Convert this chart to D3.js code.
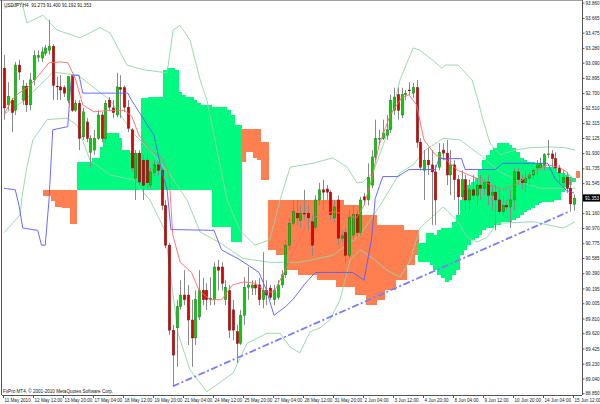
<!DOCTYPE html>
<html><head><meta charset="utf-8">
<script src="https://cdn.jsdelivr.net/npm/d3@7"></script>
<style>body{margin:0;background:#fff}svg{display:block}text{font-family:"Liberation Sans",Arial,sans-serif}</style>
</head><body><svg id="c" width="600" height="404"></svg>
<script>
// ---------- DATA ----------
const openP=[93.02,92.55,92.61,92.48,93.06,92.61,92.79,92.55,92.87,93.16,
93.15,93.21,93.25,93.30,92.79,92.78,92.77,92.61,92.91,92.48,
92.57,92.14,92.33,91.94,91.97,92.12,92.42,92.12,92.61,92.51,
92.42,92.77,92.77,92.52,92.23,91.61,91.93,91.84,91.84,91.52,
91.68,91.78,91.71,91.26,90.75,89.66,89.69,89.96,90.11,90.11,
89.79,89.56,89.83,90.17,90.17,90.05,90.05,90.47,90.47,90.05,
90.17,89.92,89.64,89.49,89.85,90.21,90.20,90.24,90.24,90.05,
90.17,90.20,90.05,90.08,90.24,90.37,90.75,91.03,91.16,91.07,
91.16,91.16,91.05,90.98,91.33,91.46,91.47,91.43,91.10,91.33,
90.84,90.91,90.62,90.88,91.14,90.91,91.37,91.33,91.52,91.88,
92.11,92.12,92.16,92.23,92.48,92.68,92.42,92.68,92.74,92.70,
92.77,92.07,91.71,91.84,91.78,91.69,91.75,91.97,91.93,91.65,
91.78,91.59,91.37,91.59,91.33,91.46,91.39,91.52,91.48,91.56,
91.39,91.43,91.33,91.18,91.26,91.24,91.33,91.69,91.59,91.55,
91.61,91.65,91.74,91.75,91.78,91.91,91.92,91.86,91.74,91.55,
91.62,91.48,91.273];
const highP=[93.19,92.84,92.64,93.10,93.13,92.87,92.83,92.96,93.25,93.25,
93.29,93.32,93.64,93.33,92.91,92.93,92.80,92.92,92.93,92.61,
92.61,92.51,92.38,92.16,92.23,92.48,92.46,92.61,92.65,92.61,
92.96,92.93,92.80,92.61,92.25,91.97,91.97,91.91,91.94,91.74,
91.84,91.82,91.74,91.33,90.78,89.73,90.05,90.30,90.43,90.24,
90.05,90.17,90.43,90.33,90.26,90.34,90.53,90.56,90.53,90.30,
90.24,90.05,89.73,89.92,90.34,90.47,90.30,90.30,90.33,90.66,
90.30,90.24,90.24,90.30,90.43,90.82,91.10,91.33,91.33,91.26,
91.46,91.26,91.14,91.39,91.55,91.59,91.52,91.46,91.33,91.39,
90.94,90.97,91.20,91.26,91.20,91.37,91.42,91.80,91.97,92.36,
92.23,92.36,92.42,92.68,92.77,92.77,92.77,92.74,92.84,92.83,
92.87,92.12,91.97,92.00,91.97,91.78,92.06,92.06,92.10,91.97,
91.84,91.65,91.71,91.65,91.59,91.65,91.59,91.65,91.59,91.65,
91.52,91.52,91.46,91.39,91.33,91.46,91.74,91.74,91.65,91.71,
91.69,91.74,91.84,91.87,91.93,92.10,91.97,91.94,91.78,91.71,
91.69,91.59,91.400];
const lowP=[92.36,92.48,92.20,92.42,92.87,92.55,92.46,92.48,92.80,93.10,
93.10,93.18,93.19,92.61,92.61,92.61,92.65,92.57,92.46,92.46,
91.97,92.10,92.07,91.75,91.91,92.10,92.07,92.06,92.48,92.38,
92.39,92.38,92.46,92.20,91.69,91.33,91.52,91.33,91.46,91.48,
91.64,91.65,91.20,90.71,89.60,88.93,89.19,89.92,89.98,89.47,
89.19,89.47,89.79,89.98,89.92,89.98,89.98,90.17,90.17,89.98,
89.56,89.53,89.24,89.47,89.73,90.05,90.11,90.11,89.98,89.94,
89.98,90.05,89.98,90.05,90.20,90.33,90.69,91.00,91.01,90.97,
91.07,90.94,90.62,90.94,91.26,91.20,91.33,91.07,91.05,90.75,
90.79,90.52,90.58,90.82,90.85,90.87,91.26,91.26,91.48,91.84,
92.03,92.10,92.10,92.19,92.42,92.36,92.38,92.61,92.68,92.64,
92.00,91.71,91.33,91.65,91.01,91.01,91.71,91.84,91.52,91.39,
91.33,91.14,91.33,91.20,91.20,91.33,91.26,91.33,91.39,91.26,
91.20,90.94,91.14,91.14,91.20,90.97,91.20,91.52,91.46,91.43,
91.52,91.59,91.65,91.71,91.71,91.87,91.75,91.71,91.55,91.48,
91.42,91.18,91.192];
const closeP=[92.51,92.66,92.45,93.06,92.97,92.79,92.55,92.87,93.18,93.18,
93.23,93.28,93.30,92.80,92.78,92.74,92.70,92.91,92.48,92.57,
92.12,92.46,92.12,92.12,92.12,92.42,92.12,92.57,92.52,92.45,
92.78,92.75,92.52,92.25,91.74,91.93,91.56,91.52,91.55,91.69,
91.78,91.71,91.26,90.75,89.66,89.34,89.96,90.11,90.05,89.79,
89.56,90.05,90.17,90.05,90.05,90.07,90.47,90.43,90.26,90.21,
89.66,89.66,89.49,89.85,90.21,90.24,90.24,90.20,90.05,90.17,
90.11,90.08,90.17,90.24,90.37,90.75,91.03,91.18,91.10,91.16,
91.15,91.10,90.75,91.33,91.46,91.43,91.43,91.14,91.24,90.84,
90.87,90.62,91.11,91.14,90.91,91.33,91.33,91.62,91.88,92.12,
92.12,92.19,92.23,92.61,92.65,92.48,92.68,92.70,92.73,92.77,
92.07,91.75,91.84,91.78,91.69,91.33,91.94,91.93,91.65,91.78,
91.59,91.37,91.59,91.33,91.46,91.39,91.52,91.48,91.56,91.39,
91.43,91.33,91.18,91.26,91.24,91.33,91.69,91.59,91.55,91.61,
91.65,91.71,91.78,91.80,91.91,91.92,91.86,91.74,91.68,91.62,
91.48,91.28,91.353];

// Ichimoku cloud (Senkou A / Senkou B), starting at bar cloudStart
const cloudStart=11;
const spanA=[91.38,91.38,91.32,91.24,91.24,91.23,91.23,91.02,91.02,
91.82,91.82,91.82,91.82,91.87,91.87,92.01,92.14,92.19,92.19,92.19,92.12,91.97,91.97,91.93,91.93,91.93,
92.64,92.64,92.65,92.65,92.65,92.65,93.00,93.02,93.02,93.00,92.71,92.68,92.65,92.65,92.61,92.57,92.55,92.55,92.55,
92.52,92.52,92.52,92.52,92.48,92.42,92.29,92.29,
91.82,91.94,91.94,91.87,91.84,91.59,91.59,
90.69,90.69,90.62,90.62,90.62,90.43,90.43,90.43,90.37,90.37,90.37,90.37,90.37,90.30,90.30,90.30,90.30,90.30,
90.21,90.21,90.21,90.21,90.21,90.11,90.11,90.11,89.98,89.98,89.98,90.05,90.05,90.17,90.17,90.17,90.30,90.30,90.30,
90.50,90.50,90.62,
90.78,90.78,90.91,90.91,90.88,90.94,90.97,90.97,90.97,91.05,91.14,91.33,91.46,91.52,91.56,91.61,91.71,91.84,
91.91,91.97,92.00,92.06,92.06,92.06,92.03,92.00,91.94,91.87,91.84,91.82,91.82,91.80,91.80,91.78,91.75,91.75,
91.74,91.69,91.68,91.65,91.62,91.61,91.61];
const spanB=[91.46,91.46,91.46,91.46,91.46,91.46,91.46,91.46,91.46,
91.46,91.46,91.46,91.46,91.46,91.46,91.46,91.46,91.46,91.46,91.46,91.46,91.46,91.46,91.46,91.46,91.46,
91.46,91.46,91.46,91.46,91.46,91.46,91.46,91.46,91.46,91.46,91.46,91.46,91.46,91.46,91.46,91.46,91.46,91.46,91.46,
90.98,90.98,90.98,90.98,90.98,90.79,90.79,90.79,
92.24,92.24,92.24,92.24,92.24,92.07,92.07,
91.33,91.33,91.33,91.33,91.33,91.33,91.33,91.33,91.33,91.33,91.33,91.33,91.33,91.33,91.33,91.33,91.33,91.33,
91.33,91.33,91.26,91.26,91.26,91.26,91.14,91.14,91.14,91.14,91.14,91.01,91.01,91.01,91.01,91.01,91.01,91.01,90.94,
90.94,90.94,90.94,
90.53,90.53,90.53,90.50,90.43,90.37,90.33,90.28,90.30,90.37,90.43,90.62,90.69,90.75,90.82,90.84,90.88,90.94,
90.97,90.97,91.01,91.01,91.05,91.05,91.05,91.07,91.10,91.14,91.18,91.20,91.23,91.26,91.29,91.30,91.30,91.30,
91.33,91.33,91.43,91.50,91.52,91.56,91.70];

// indicator lines as [bar, price] points
const tenkan=[[0,92.42],[2,92.61],[4,92.70],[7,92.80],[10,92.97],[12,93.09],[15,93.10],[17,93.09],[19,92.89],[21,92.55],[24,92.46],[28,92.48],[32,92.48],[34,92.41],[36,92.16],[39,91.97],[42,91.87],[44,91.65],[45,90.88],[47,90.53],[50,90.40],[52,90.17],[55,90.05],[58,90.05],[61,90.24],[64,90.28],[67,90.26],[70,90.15],[72,90.15],[75,90.43],[78,90.75],[81,91.05],[84,91.14],[88,91.18],[91,91.14],[94,91.10],[96,91.26],[98,91.59],[100,92.03],[103,92.42],[106,92.64],[108,92.68],[110,92.55],[112,92.10],[115,91.91],[118,91.84],[121,91.71],[124,91.65],[127,91.59],[130,91.52],[133,91.46],[136,91.52],[139,91.61],[142,91.71],[145,91.78],[148,91.75],[150,91.69],[152,91.59]];
const kijun=[[0,91.48],[3,91.46],[4,91.26],[5,90.97],[9,90.94],[10,90.75],[11,90.75],[12,91.33],[13,92.23],[17,92.27],[17.5,92.61],[18,92.93],[20,92.93],[21,92.70],[33,92.70],[34,92.61],[38,92.31],[40,92.16],[42,91.71],[43.5,91.46],[44.5,90.95],[56,90.94],[58,90.69],[63,90.56],[68,90.40],[70,90.17],[72,89.85],[75,89.96],[77,90.05],[80,90.24],[83,90.40],[93,90.40],[96,90.30],[98,90.82],[99,91.35],[101,91.63],[105,91.63],[108,91.72],[115,91.72],[116,91.86],[122,91.86],[123,91.72],[131,91.72],[133,91.80],[145,91.80],[147,91.60],[150,91.45],[152,91.42]];
const bandUpper=[[0,93.79],[4.8,93.86],[6.1,93.60],[10.4,93.70],[14.1,93.51],[20.3,93.41],[25.6,93.54],[28.3,93.47],[32.8,93.06],[37.1,93.00],[43.5,92.96],[45.1,93.51],[46.9,93.57],[49.6,93.38],[52.3,92.87],[54.1,92.61],[59.5,91.33],[62.9,90.94],[66.9,90.75],[70.9,90.82],[73.6,91.33],[76.3,91.75],[82.4,91.80],[87.7,91.87],[91.5,91.75],[94.1,91.55],[95.7,91.56],[98.4,91.68],[101.6,92.10],[103.7,92.48],[105.6,92.87],[109.1,93.28],[110.9,93.25],[114.1,93.13],[116.8,93.02],[117.6,93.06],[121.1,93.06],[124.8,92.87],[126.4,92.61],[127.7,92.36],[129.6,92.06],[132.3,91.91],[136.3,91.97],[140.3,92.00],[145.6,92.01],[149.6,92.00],[152.3,91.97]];
const bandMiddle=[[0,92.43],[5.6,92.61],[13.1,92.97],[19.7,92.93],[28.3,92.61],[34.4,92.19],[38.9,91.97],[44.3,91.65],[48.8,91.33],[52.3,90.92],[57.6,90.78],[63.7,90.58],[70.9,90.53],[78.9,90.53],[87.7,90.62],[94.9,90.88],[100.3,91.26],[105.6,91.68],[109.1,91.78],[112.3,91.97],[117.1,92.12],[121.6,92.10],[126.9,91.91],[132.3,91.69],[137.6,91.56],[142.9,91.48],[148.3,91.48],[152.3,91.48]];
const bandLower=[[0,90.91],[4.3,91.14],[4.8,91.37],[6.1,91.75],[7.7,92.10],[11.5,92.36],[16.8,92.38],[19.5,92.29],[22.9,91.84],[28.3,91.65],[34.4,91.59],[38.9,91.33],[42.9,90.94],[46.4,89.62],[49.6,89.15],[54.1,88.87],[61.1,89.11],[64.8,89.49],[70.1,89.62],[73.6,89.62],[76.3,89.44],[78.9,89.37],[81.6,89.64],[84.3,89.69],[86.9,89.79],[89.6,90.05],[92.3,90.56],[94.9,90.69],[98.4,90.58],[102.1,90.43],[105.6,90.34],[108.3,90.56],[110.9,90.97],[117.1,91.24],[120.8,91.07],[123.5,90.85],[126.1,90.79],[128.8,90.85],[131.5,91.03],[141.1,91.05],[149.1,90.97],[152.3,91.05]];
const trendLine=[[45.0,88.94],[150.4,91.175]];

const yTicks=[93.860,93.665,93.475,93.280,93.090,92.895,92.700,92.510,92.315,92.125,91.930,91.735,91.545,91.160,90.970,90.775,90.585,90.390,90.195,90.005,89.810,89.620,89.425,89.230,89.040,88.850];
const xLabelBars=[0,8,16,24,32,40,48,56,64,72,80,88,96,104,112,120,128,136,144,152];
const xLabels=["11 May 2010","12 May 12:00","13 May 20:00","17 May 04:00","18 May 12:00","19 May 20:00","21 May 04:00","24 May 12:00","25 May 20:00","27 May 04:00","28 May 12:00","31 May 20:00","2 Jun 04:00","3 Jun 12:00","4 Jun 20:00","8 Jun 04:00","9 Jun 12:00","10 Jun 20:00","14 Jun 04:00","15 Jun 12:00"];
const headerText="USDJPY,H4  91.273 91.400 91.192 91.353";
const lastPrice=91.353;
const footerText="FxPro MT4, \u00a9 2001-2010 MetaQuotes Software Corp.";

// ---------- DRAW ----------
const svg=d3.select("#c");
const L=2,R=582,T=0.5,B=395;
const x=d3.scaleLinear().domain([0,152]).range([4,574]);
const y=d3.scaleLinear().domain([88.850,93.860]).range([393.3,2.7]);
const bw=x(1)-x(0);
const FONT="Liberation Sans, Arial, sans-serif";

svg.append("rect").attr("width",600).attr("height",404).attr("fill","#fff");
svg.append("clipPath").attr("id","plot").append("rect").attr("x",L).attr("y",T).attr("width",R-L).attr("height",B-T);
const g=svg.append("g").attr("clip-path","url(#plot)");

// cloud
const cloud=spanA.map((a,k)=>({i:cloudStart+k,a:a,b:spanB[k]}));
g.append("g").attr("shape-rendering","crispEdges").selectAll("rect").data(cloud).join("rect")
 .attr("x",d=>x(d.i)-bw/2).attr("width",bw+0.3)
 .attr("y",d=>y(Math.max(d.a,d.b))).attr("height",d=>Math.max(0.5,Math.abs(y(d.a)-y(d.b))))
 .attr("fill",d=>d.a>=d.b?"#00fa80":"#ff7f50");

const line=d3.line().x(d=>x(d[0])).y(d=>y(d[1]));
// bollinger
[bandUpper,bandMiddle,bandLower].forEach(b=>{
 g.append("path").attr("d",line(b)).attr("fill","none").attr("stroke","#8fd6a6").attr("stroke-width",0.9);
});

// candles
const bars=openP.map((o,i)=>({i,o,h:highP[i],l:lowP[i],c:closeP[i]}));
const cg=g.append("g");
cg.selectAll("line").data(bars).join("line")
 .attr("x1",d=>Math.round(x(d.i))+0.5).attr("x2",d=>Math.round(x(d.i))+0.5)
 .attr("y1",d=>y(d.h)).attr("y2",d=>y(d.l)).attr("stroke","#8a8a8a").attr("stroke-width",1);
cg.selectAll("rect").data(bars).join("rect")
 .attr("x",d=>Math.round(x(d.i))-0.7).attr("width",2.4)
 .attr("y",d=>y(Math.max(d.o,d.c))).attr("height",d=>Math.max(0.8,Math.abs(y(d.o)-y(d.c))))
 .attr("fill",d=>d.c>=d.o?"#00d400":"#e00000")
 .attr("stroke",d=>d.c>=d.o?"#1a6a1a":"#6a1010").attr("stroke-width",0.45);

// tenkan / kijun
g.append("path").attr("d",line(tenkan)).attr("fill","none").attr("stroke","#ff6a6a").attr("stroke-width",0.9);
g.append("path").attr("d",line(kijun)).attr("fill","none").attr("stroke","#5a5aff").attr("stroke-width",0.9);
// trend line
g.append("path").attr("d",line(trendLine)).attr("fill","none").attr("stroke","#7b7bff")
 .attr("stroke-width",1.8).attr("stroke-dasharray","7,2.5,2,2.5");

// frame
svg.append("line").attr("x1",0).attr("x2",R).attr("y1",0.5).attr("y2",0.5).attr("stroke","#a0a0a0");
svg.append("line").attr("x1",1.5).attr("x2",1.5).attr("y1",0).attr("y2",B).attr("stroke","#555");

// y axis
const ya=d3.axisRight(y).tickValues(yTicks).tickFormat(d3.format(".3f")).tickSize(2.5).tickPadding(1);
const yg=svg.append("g").attr("transform",`translate(${R},0)`).call(ya);
yg.attr("font-family",FONT).attr("font-size",4.6);
yg.select(".domain").attr("stroke","#555").attr("d",`M0.5,0V${B}`);
yg.selectAll(".tick line").attr("stroke","#555");
yg.selectAll("text").attr("fill","#222").attr("dy","0.35em");

// x axis
const xa=d3.axisBottom(x).tickValues(xLabelBars).tickFormat((d,k)=>xLabels[k]).tickSize(3).tickPadding(0.5);
const xg=svg.append("g").attr("transform",`translate(-1,${B})`).call(xa);
xg.attr("font-family",FONT).attr("font-size",4.6);
xg.select(".domain").attr("stroke","#555").attr("d",`M3,0.5H${R+1}`);
xg.selectAll(".tick line").attr("stroke","#555");
xg.selectAll("text").attr("fill","#222").attr("text-anchor","start").attr("x",1).attr("y",7).attr("dy",0);

// price box
svg.append("rect").attr("x",R+1).attr("y",y(lastPrice)-3.8).attr("width",17).attr("height",7.2).attr("fill","#000");
svg.append("text").attr("x",R+3).attr("y",y(lastPrice)+1.7).attr("font-size",4.6).attr("fill","#fff").text(d3.format(".3f")(lastPrice));

// texts
svg.append("text").attr("x",4).attr("y",7).attr("font-size",4.6).attr("fill","#111").attr("xml:space","preserve").text(headerText);
svg.append("text").attr("x",3).attr("y",392.5).attr("font-size",4.6).attr("fill","#111").text(footerText);
</script></body></html>
